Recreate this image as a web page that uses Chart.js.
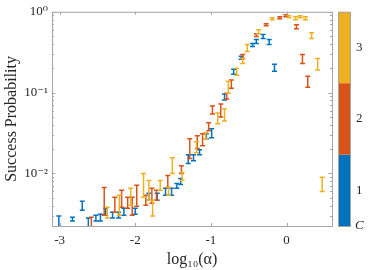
<!DOCTYPE html>
<html>
<head>
<meta charset="utf-8">
<script src="https://cdn.jsdelivr.net/npm/chart.js@4.4.1/dist/chart.umd.min.js"></script>
<style>
  html, body { margin: 0; padding: 0; background: #fff; }
</style>
</head>
<body>
<canvas id="chart" width="374" height="270"></canvas>
<script>
// C = 1 (blue)
const c1X  = [-3.01, -2.83, -2.70, -2.62, -2.52, -2.46, -2.39, -2.30, -2.22, -2.15, -2.00, -1.82, -1.71, -1.60, -1.52, -1.45, -1.40, -1.30, -1.23, -1.15, -1.06, -0.99, -0.82, -0.70, -0.60, -0.45, -0.40, -0.31, -0.23, -0.16];
const c1Y  = [0.00247, 0.00273, 0.00400, 0.00246, 0.00281, 0.00285, 0.00337, 0.00305, 0.00305, 0.00337, 0.00342, 0.00515, 0.00515, 0.00593, 0.00593, 0.00703, 0.00798, 0.0151, 0.0157, 0.0184, 0.0289, 0.0314, 0.0881, 0.181, 0.269, 0.388, 0.428, 0.493, 0.415, 0.203];
const c1Lo = [0.00205, 0.00258, 0.00352, 0.00215, 0.00258, 0.00258, 0.00305, 0.00281, 0.00281, 0.00305, 0.00314, 0.00467, 0.00467, 0.00537, 0.00537, 0.00655, 0.00733, 0.0133, 0.0144, 0.0171, 0.0269, 0.0277, 0.0809, 0.169, 0.258, 0.372, 0.405, 0.466, 0.394, 0.184];
const c1Hi = [0.00297, 0.00288, 0.00453, 0.00281, 0.00305, 0.00314, 0.00372, 0.00332, 0.00332, 0.00372, 0.00372, 0.00569, 0.00569, 0.00655, 0.00655, 0.00754, 0.00869, 0.0171, 0.0171, 0.0197, 0.0310, 0.0357, 0.0959, 0.194, 0.281, 0.405, 0.453, 0.522, 0.453, 0.224];

// C = 2 (orange)
const c2X  = [-2.58, -2.41, -2.27, -2.18, -2.10, -2.04, -1.98, -1.86, -1.78, -1.72, -1.57, -1.39, -1.28, -1.18, -1.11, -1.03, -0.98, -0.87, -0.79, -0.73, -0.58, -0.40, -0.27, -0.09, -0.01, 0.13, 0.21, 0.28];
const c2Y  = [0.00246, 0.00453, 0.00411, 0.00487, 0.00435, 0.00394, 0.00530, 0.00467, 0.00530, 0.00537, 0.00798, 0.0112, 0.0203, 0.0244, 0.0262, 0.0377, 0.0610, 0.0601, 0.0906, 0.127, 0.281, 0.515, 0.693, 0.843, 0.893, 0.654, 0.261, 0.136];
const c2Lo = [0.00210, 0.00305, 0.00332, 0.00383, 0.00372, 0.00305, 0.00394, 0.00405, 0.00428, 0.00467, 0.00673, 0.0100, 0.0153, 0.0203, 0.0221, 0.0337, 0.0545, 0.0500, 0.0832, 0.113, 0.265, 0.494, 0.673, 0.821, 0.868, 0.618, 0.230, 0.117];
const c2Hi = [0.00288, 0.00673, 0.00508, 0.00618, 0.00508, 0.00508, 0.00713, 0.00537, 0.00655, 0.00618, 0.00945, 0.0125, 0.0269, 0.0293, 0.0310, 0.0423, 0.0683, 0.0723, 0.0986, 0.143, 0.297, 0.537, 0.713, 0.866, 0.918, 0.692, 0.297, 0.159];

// C = 3 (yellow)
const c3X  = [-2.37, -2.21, -2.06, -1.89, -1.82, -1.77, -1.67, -1.56, -1.51, -1.38, -1.19, -1.07, -0.91, -0.82, -0.77, -0.66, -0.58, -0.52, -0.37, -0.19, 0.03, 0.12, 0.18, 0.25, 0.33, 0.41, 0.47];
const c3Y  = [0.00328, 0.00405, 0.00515, 0.00713, 0.00619, 0.00373, 0.00712, 0.00601, 0.0125, 0.0092, 0.0212, 0.0293, 0.0480, 0.0530, 0.117, 0.181, 0.247, 0.357, 0.568, 0.822, 0.868, 0.833, 0.868, 0.833, 0.507, 0.224, 0.0073];
const c3Lo = [0.00281, 0.00305, 0.00405, 0.00508, 0.00467, 0.00297, 0.00618, 0.00537, 0.0100, 0.0082, 0.0181, 0.0269, 0.0411, 0.0447, 0.0986, 0.164, 0.230, 0.323, 0.537, 0.800, 0.844, 0.800, 0.844, 0.800, 0.466, 0.190, 0.0060];
const c3Hi = [0.00383, 0.00537, 0.00655, 0.0100, 0.0082, 0.00467, 0.0082, 0.00673, 0.0157, 0.0103, 0.0247, 0.0320, 0.0560, 0.0628, 0.138, 0.200, 0.265, 0.394, 0.601, 0.844, 0.893, 0.866, 0.893, 0.866, 0.552, 0.265, 0.0090];

const xTicks = [-3, -2, -1, 0];
const yTicks = [0.01, 0.1, 1];
const yTickLabels = ['10\u207B\u00B2', '10\u207B\u00B9', '10\u2070'];
const cbarLabels = ['1', '2', '3'];

const blue = '#0072BD', orange = '#D95319', yellow = '#EDB120';
const axisGray = '#a6a6a6';
const textColor = '#262626';
const serif = '"Liberation Serif", "DejaVu Serif", serif';

function points(xs, ys, lo, hi) {
    return xs.map((x, i) => ({ x: x, y: ys[i], lo: lo[i], hi: hi[i] }));
}

// error bars drawn as "I" shapes
const errorBars = {
    id: 'errorBars',
    afterDatasetsDraw(chart) {
        const { ctx, chartArea: a, scales: { x, y } } = chart;
        const cap = 2.5;
        ctx.save();
        ctx.beginPath();
        ctx.rect(a.left, a.top, a.right - a.left, a.bottom - a.top);
        ctx.clip();
        ctx.lineWidth = 1.5;
        chart.data.datasets.forEach(ds => {
            ctx.strokeStyle = ds.borderColor;
            ds.data.forEach(p => {
                const px = x.getPixelForValue(p.x);
                const top = y.getPixelForValue(p.hi);
                const bot = y.getPixelForValue(p.lo);
                ctx.beginPath();
                ctx.moveTo(px, top); ctx.lineTo(px, bot);
                ctx.moveTo(px - cap, top); ctx.lineTo(px + cap, top);
                ctx.moveTo(px - cap, bot); ctx.lineTo(px + cap, bot);
                ctx.stroke();
            });
        });
        ctx.restore();
    }
};

// matlab style box, inward ticks and the colorbar
const axesBox = {
    id: 'axesBox',
    afterDraw(chart) {
        const { ctx, chartArea: a, scales: { x, y } } = chart;
        ctx.save();
        ctx.strokeStyle = axisGray;
        ctx.lineWidth = 1;
        ctx.strokeRect(a.left + 0.5, a.top + 0.5, a.right - a.left, a.bottom - a.top);

        ctx.beginPath();
        xTicks.forEach(v => {
            const px = Math.round(x.getPixelForValue(v)) + 0.5;
            ctx.moveTo(px, a.bottom); ctx.lineTo(px, a.bottom - 3);
            ctx.moveTo(px, a.top); ctx.lineTo(px, a.top + 3);
        });
        for (let e = -3; e <= 0; e++) {
            for (let m = 1; m <= 9; m++) {
                const v = m * Math.pow(10, e);
                if (v < y.min || v > y.max) continue;
                const py = Math.round(y.getPixelForValue(v)) + 0.5;
                const len = m === 1 ? 3.5 : 2;
                ctx.moveTo(a.left, py); ctx.lineTo(a.left + len, py);
                ctx.moveTo(a.right, py); ctx.lineTo(a.right - len, py);
            }
        }
        ctx.stroke();

        // colorbar
        const cx = 338, cw = 12;
        const h = (a.bottom - a.top) / 3;
        [blue, orange, yellow].forEach((c, i) => {
            ctx.fillStyle = c;
            ctx.fillRect(cx, a.bottom - (i + 1) * h, cw, h);
        });
        ctx.strokeStyle = axisGray;
        ctx.strokeRect(cx + 0.5, a.top + 0.5, cw, a.bottom - a.top);

        ctx.fillStyle = textColor;
        ctx.font = '13px ' + serif;
        ctx.textAlign = 'left';
        ctx.textBaseline = 'middle';
        cbarLabels.forEach((t, i) => {
            ctx.fillText(t, cx + cw + 6, a.bottom - (i + 0.5) * h);
        });
        ctx.font = 'italic 13px ' + serif;
        ctx.fillText('C', cx + cw + 5, a.bottom);
        ctx.restore();
    }
};

new Chart(document.getElementById('chart').getContext('2d'), {
    type: 'scatter',
    data: {
        datasets: [
            { label: 'C=1', data: points(c1X, c1Y, c1Lo, c1Hi), borderColor: blue, backgroundColor: blue },
            { label: 'C=2', data: points(c2X, c2Y, c2Lo, c2Hi), borderColor: orange, backgroundColor: orange },
            { label: 'C=3', data: points(c3X, c3Y, c3Lo, c3Hi), borderColor: yellow, backgroundColor: yellow },
        ],
    },
    options: {
        responsive: false,
        animation: false,
        devicePixelRatio: 1,
        layout: { padding: { top: 10, right: 42, left: 0, bottom: 0 } },
        elements: { point: { radius: 0, hoverRadius: 0 } },
        plugins: {
            legend: { display: false },
            tooltip: { enabled: false },
        },
        scales: {
            x: {
                type: 'linear',
                min: -3.1,
                max: 0.6,
                afterBuildTicks: s => { s.ticks = xTicks.map(v => ({ value: v })); },
                afterFit: s => { s.height = 44; },
                grid: { display: false, drawTicks: false },
                border: { display: false },
                ticks: { color: textColor, font: { family: serif, size: 13 }, padding: 7 },
                title: {
                    display: true,
                    text: 'log\u2081\u2080(\u03B1)',
                    color: textColor,
                    font: { family: serif, size: 16 },
                    padding: { top: 0, bottom: 1 },
                },
            },
            y: {
                type: 'logarithmic',
                min: 0.00224,
                max: 1,
                afterBuildTicks: s => { s.ticks = yTicks.map(v => ({ value: v })); },
                afterFit: s => { s.width = 52; },
                grid: { display: false, drawTicks: false },
                border: { display: false },
                ticks: {
                    color: textColor,
                    font: { family: serif, size: 13 },
                    padding: 4,
                    callback: (v, i) => yTickLabels[i],
                },
                title: {
                    display: true,
                    text: 'Success Probability',
                    color: textColor,
                    font: { family: serif, size: 16 },
                    padding: { top: 2, bottom: 0 },
                },
            },
        },
    },
    plugins: [errorBars, axesBox],
});
</script>
</body>
</html>
